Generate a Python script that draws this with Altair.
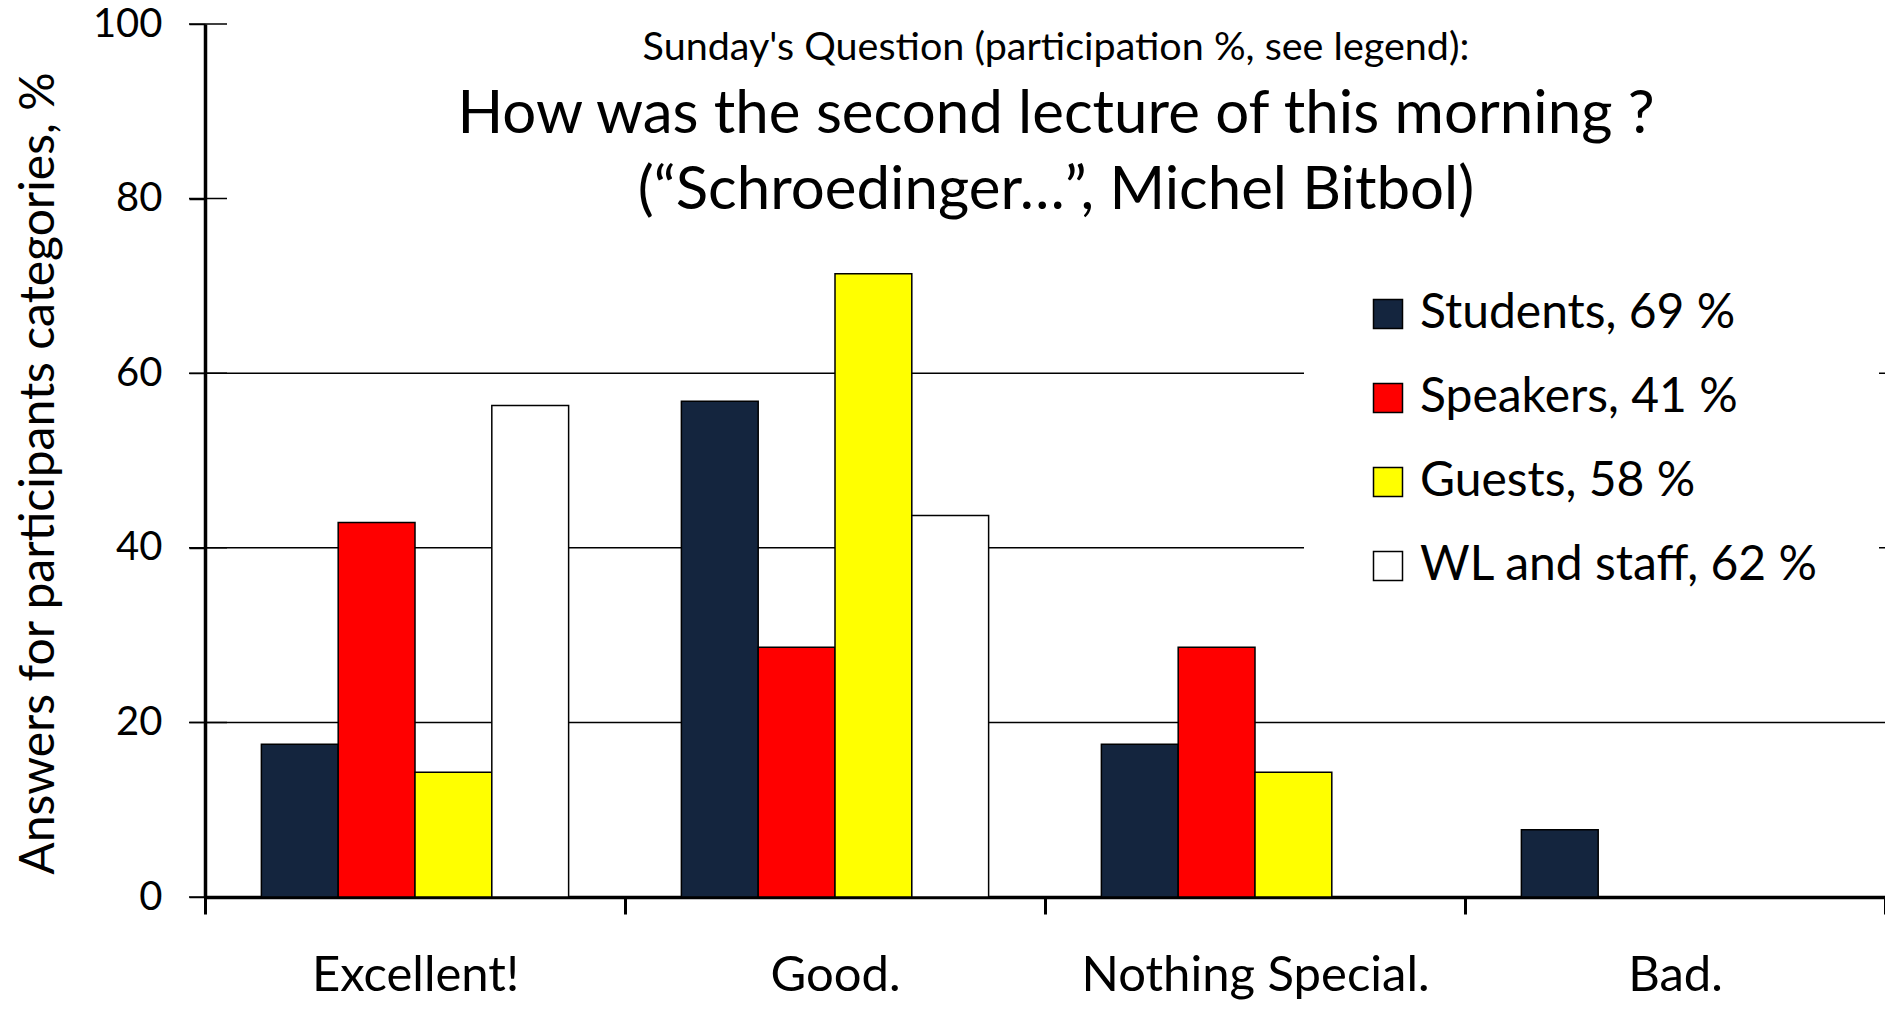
import altair as alt
import pandas as pd

categories = ["Excellent!", "Good.", "Nothing Special.", "Bad."]
series = ["Students, 69 %", "Speakers, 41 %", "Guests, 58 %", "WL and staff, 62 %"]
students = [17.5, 56.8, 17.5, 7.7]
speakers = [42.9, 28.6, 28.6, 0.0]
guests = [14.3, 71.4, 14.3, 0.0]
wl_staff = [56.3, 43.7, 0.0, 0.0]
colors = ["#14253e", "#ff0000", "#ffff00", "#ffffff"]
grid_values = [20, 40, 60]
y_ticks = [0, 20, 40, 60, 80, 100]

rows = []
for name, vals in zip(series, [students, speakers, guests, wl_staff]):
    for cat, v in zip(categories, vals):
        rows.append({"category": cat, "series": name, "value": v})
df = pd.DataFrame(rows)
grid_df = pd.DataFrame({"g": grid_values})
tick_df = pd.DataFrame({"t": y_ticks})

FONT = "Lato"

grid = alt.Chart(grid_df).mark_rule(color="black", strokeWidth=1.5).encode(
    y=alt.Y("g:Q", scale=alt.Scale(domain=[0, 100]))
)

yticks = alt.Chart(tick_df).mark_tick(
    orient="horizontal", size=38, thickness=1.5, color="black", opacity=1
).encode(
    y=alt.Y("t:Q", scale=alt.Scale(domain=[0, 100])),
    x=alt.value(3),
)

bars = alt.Chart(df).mark_bar(stroke="black").encode(
    x=alt.X(
        "category:N",
        sort=categories,
        scale=alt.Scale(paddingInner=0, paddingOuter=0),
        axis=alt.Axis(
            title=None,
            tickBand="extent",
            tickSize=17,
            tickWidth=3,
            tickColor="black",
            domainColor="black",
            domainWidth=3.5,
            labelFontSize=49,
            labelFont=FONT,
            labelColor="black",
            labelPadding=37,
            labelAngle=0,
            labelLimit=0,
            grid=False,
        ),
    ),
    xOffset=alt.XOffset(
        "series:N",
        sort=series,
        scale=alt.Scale(domain=series, paddingOuter=0.734, paddingInner=0),
    ),
    y=alt.Y(
        "value:Q",
        scale=alt.Scale(domain=[0, 100]),
        axis=alt.Axis(
            title="Answers for participants categories, %",
            titleFont=FONT,
            titleFontSize=48,
            titleFontWeight="normal",
            titleColor="black",
            titleAngle=-90,
            titleX=-166,
            titleY=449,
            titleBaseline="middle",
            titleAlign="center",
            titleLimit=0,
            values=y_ticks,
            tickSize=16,
            tickWidth=1.5,
            tickColor="black",
            domainColor="black",
            domainWidth=3.5,
            labelFont=FONT,
            labelFontSize=40,
            labelColor="black",
            labelPadding=27,
            grid=False,
        ),
    ),
    color=alt.Color(
        "series:N",
        sort=series,
        scale=alt.Scale(domain=series, range=colors),
        legend=alt.Legend(
            title=None,
            orient="none",
            legendX=1099,
            legendY=206,
            fillColor="white",
            padding=60,
            symbolType="square",
            symbolSize=841,
            symbolStrokeColor="black",
            symbolStrokeWidth=1.5,
            symbolOpacity=1,
            labelFont=FONT,
            labelFontSize=48,
            labelColor="black",
            labelLimit=0,
            labelOffset=8,
            rowPadding=36,
        ),
    ),
    strokeWidth=alt.StrokeWidth(
        "series:N",
        scale=alt.Scale(domain=series, range=[1.5, 1.5, 1.5, 3]),
        legend=None,
    ),
)

chart = (
    alt.layer(grid, bars, yticks)
    .properties(
        width=1680,
        height=873,
        padding={"left": 197, "top": 16, "right": 0, "bottom": 106},
        autosize=alt.AutoSizeParams(type="none"),
        title=alt.TitleParams(
            text="Sunday's Question (participation %, see legend):",
            subtitle=["How was the second lecture of this morning ?", "(\u201cSchroedinger\u2026\u201d, Michel Bitbol)"],
            font=FONT,
            fontSize=39.5,
            fontWeight="normal",
            color="black",
            subtitleFont=FONT,
            subtitleFontSize=60,
            subtitleColor="black",
            subtitleLineHeight=76,
            subtitlePadding=18,
            anchor="middle",
            frame="group",
            offset=-218,
            dx=11,
        ),
    )
    .configure_view(stroke=None)
)

chart.save("out.html", embed_options={"renderer": "svg", "actions": False})
